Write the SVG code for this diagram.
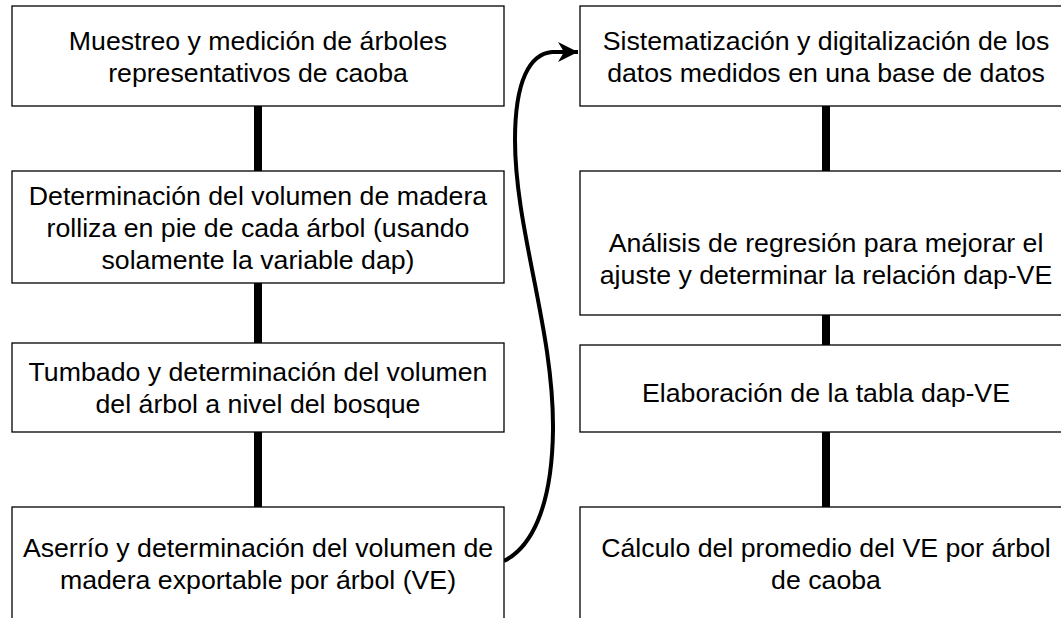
<svg xmlns="http://www.w3.org/2000/svg" width="1061" height="618" viewBox="0 0 1061 618">
<style>
.box{fill:#fff;stroke:#000;stroke-width:1.3}
.t{font-family:"Liberation Sans",Arial,sans-serif;font-size:26.7px;fill:#000;text-anchor:middle}
.bar{stroke:#000;stroke-width:8;fill:none}
.curve{stroke:#000;stroke-width:4;fill:none}
</style>
<defs>
<marker id="arr" viewBox="0 0 10 10" refX="10" refY="5" markerWidth="7" markerHeight="5" markerUnits="strokeWidth" orient="auto">
<path d="M0,0 L10,5 L0,10 L3,5 z" fill="#000"/>
</marker>
</defs>
<rect width="1061" height="618" fill="#fff"/>
<g id="connectors">
<line class="bar" x1="258" y1="106" x2="258" y2="171"/>
<line class="bar" x1="258" y1="283" x2="258" y2="343"/>
<line class="bar" x1="258" y1="432" x2="258" y2="507"/>
<line class="bar" x1="826" y1="106" x2="826" y2="171"/>
<line class="bar" x1="826" y1="315" x2="826" y2="345"/>
<line class="bar" x1="826" y1="432" x2="826" y2="507"/>
<path class="curve" marker-end="url(#arr)" d="M504,561 C530,548 552,510 553,430 C554,330 515,230 515,140 C515,80 530,54 552,52 L578,52"/>
</g>
<g id="n1"><rect class="box" x="12" y="6" width="492" height="100"/>
<text class="t" x="258" y="49.5">Muestreo y medición de árboles</text>
<text class="t" x="258" y="81.5">representativos de caoba</text></g>
<g id="n2"><rect class="box" x="12" y="171" width="492" height="112"/>
<text class="t" x="258" y="204.5">Determinación del volumen de madera</text>
<text class="t" x="258" y="236.5">rolliza en pie de cada árbol (usando</text>
<text class="t" x="258" y="268.5">solamente la variable dap)</text></g>
<g id="n3"><rect class="box" x="12" y="343" width="492" height="89"/>
<text class="t" x="258" y="381">Tumbado y determinación del volumen</text>
<text class="t" x="258" y="413">del árbol a nivel del bosque</text></g>
<g id="n4"><rect class="box" x="12" y="507" width="492" height="120"/>
<text class="t" x="258" y="557">Aserrío y determinación del volumen de</text>
<text class="t" x="258" y="589">madera exportable por árbol (VE)</text></g>
<g id="n5"><rect class="box" x="580" y="6" width="492" height="100"/>
<text class="t" x="826" y="49.5">Sistematización y digitalización de los</text>
<text class="t" x="826" y="81.5">datos medidos en una base de datos</text></g>
<g id="n6"><rect class="box" x="580" y="171" width="492" height="144"/>
<text class="t" x="826" y="252">Análisis de regresión para mejorar el</text>
<text class="t" x="826" y="284">ajuste y determinar la relación dap-VE</text></g>
<g id="n7"><rect class="box" x="580" y="345" width="492" height="87"/>
<text class="t" x="826" y="402">Elaboración de la tabla dap-VE</text></g>
<g id="n8"><rect class="box" x="580" y="507" width="492" height="120"/>
<text class="t" x="826" y="557">Cálculo del promedio del VE por árbol</text>
<text class="t" x="826" y="589">de caoba</text></g>
</svg>
